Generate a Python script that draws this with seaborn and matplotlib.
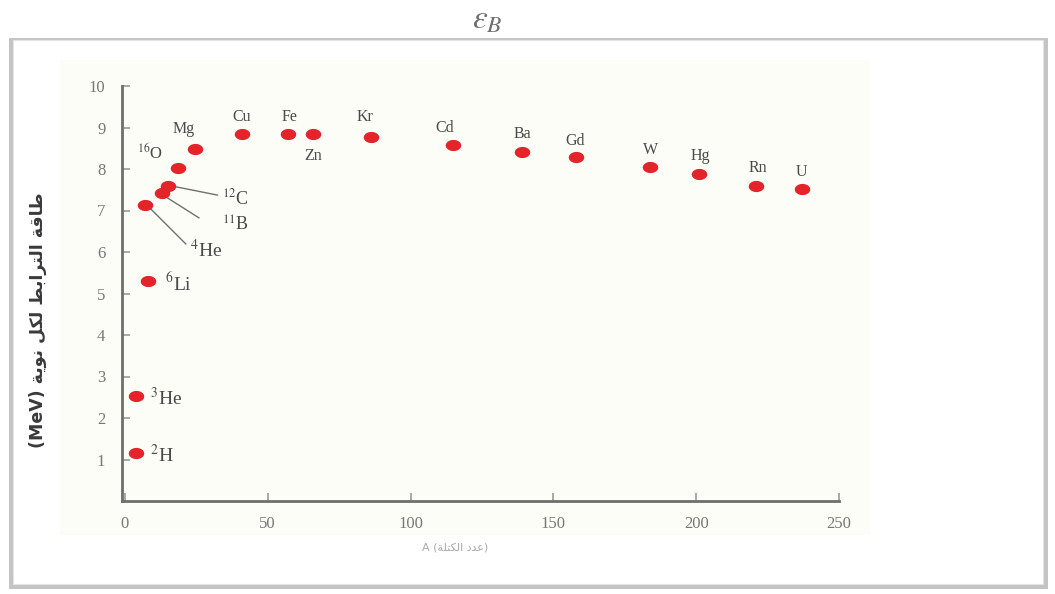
import numpy as np
import matplotlib
matplotlib.use("Agg")
import matplotlib.pyplot as plt
from matplotlib.patches import Rectangle
from matplotlib.path import Path
import seaborn as sns

# values (mass number A, binding energy per nucleon in MeV)
elements = ["2H", "3He", "6Li", "4He", "11B", "12C", "16O", "Mg", "Cu", "Fe", "Zn",
            "Kr", "Cd", "Ba", "Gd", "W", "Hg", "Rn", "U"]
mass = [4, 4, 8, 7, 13, 15, 18.5, 24.5, 41, 57, 66, 86, 115, 139, 158, 184, 201, 221, 237]
energy = [1.16, 2.53, 5.3, 7.13, 7.42, 7.59, 8.02, 8.48, 8.84, 8.84, 8.84, 8.77, 8.58,
          8.41, 8.29, 8.05, 7.88, 7.59, 7.52]

xticks = [0, 50, 100, 150, 200, 250]
yticks = [1, 2, 3, 4, 5, 6, 7, 8, 9, 10]

# label text, anchor position, alignment, size
labels = {
    "2H": (r"$^{2}$H", 8.7, 1.11, "left", 14),
    "3He": (r"$^{3}$He", 8.7, 2.48, "left", 14),
    "6Li": (r"$^{6}$Li", 14, 5.25, "left", 14),
    "4He": (r"$^{4}$He", 22.7, 6.05, "left", 14),
    "11B": (r"$^{11}$B", 34, 6.65, "left", 13),
    "12C": (r"$^{12}$C", 34, 7.3, "left", 13),
    "16O": (r"$^{16}$O", 8.7, 8.39, "center", 12),
    "Mg": ("Mg", 20.6, 8.96, "center", 11.5),
    "Cu": ("Cu", 41, 9.25, "center", 11.5),
    "Fe": ("Fe", 57.8, 9.25, "center", 11.5),
    "Zn": ("Zn", 65.8, 8.31, "center", 11.5),
    "Kr": ("Kr", 84, 9.25, "center", 11.5),
    "Cd": ("Cd", 112, 8.99, "center", 11.5),
    "Ba": ("Ba", 139, 8.84, "center", 11.5),
    "Gd": ("Gd", 157.5, 8.67, "center", 11.5),
    "W": ("W", 184, 8.46, "center", 11.5),
    "Hg": ("Hg", 201.6, 8.31, "center", 11.5),
    "Rn": ("Rn", 221.6, 8.02, "center", 11.5),
    "U": ("U", 237, 7.93, "center", 11.5),
}
leaders = {
    "12C": ((16.5, 7.59), (32.5, 7.37)),
    "11B": ((15, 7.3), (26, 6.82)),
    "4He": ((8.75, 7.06), (21.4, 6.19)),
}

# Arabic y label in presentation forms (logical order), reversed for LTR drawing
ylab_words = ["\uFEC3\uFE8E\uFED7\uFE94",
              "\uFE8D\uFEDF\uFE98\uFEAE\uFE8D\uFE91\uFEC2",
              "\uFEDF\uFEDC\uFEDE",
              "\uFEE7\uFEEE\uFEF3\uFE94"]
ylabel = "(MeV) " + " ".join(ylab_words)[::-1]
xlab_ar = " ".join(["\uFECB\uFEAA\uFEA9", "\uFE8D\uFEDF\uFEDC\uFE98\uFEE0\uFE94"])[::-1]
xlabel = "A (" + xlab_ar + ")"

sns.set_style("white")
plt.rcParams["font.family"] = ["Liberation Serif", "DejaVu Serif"]
plt.rcParams["mathtext.fontset"] = "stix"

W, H = 1055, 594
fig = plt.figure(figsize=(W / 100, H / 100), dpi=100)

# frame with shadow
fig.patches.append(Rectangle((9 / W, 1 - 589 / H), 1039 / W, 551 / H, transform=fig.transFigure,
                             facecolor="#c4c4c4", edgecolor="none", zorder=-3))
fig.patches.append(Rectangle((13 / W, 1 - 584 / H), 1030 / W, 544 / H, transform=fig.transFigure,
                             facecolor="white", edgecolor="#e4e4e4", lw=0.8, zorder=-2))
fig.patches.append(Rectangle((60 / W, 1 - 535 / H), 810 / W, 475 / H, transform=fig.transFigure,
                             facecolor="#fdfdf7", edgecolor="none", zorder=-1))

ax = fig.add_axes([122 / W, 1 - 501 / H, 717 / W, 415 / H])
ax.set_zorder(2)
ax.patch.set_alpha(0)

theta = np.linspace(0, 2 * np.pi, 40)
ellipse = Path(np.column_stack([np.cos(theta), 0.72 * np.sin(theta)]), closed=True)

sns.scatterplot(x=mass, y=energy, ax=ax, marker=ellipse, s=125, color="#e3242b",
                edgecolor="#e3242b", linewidth=0, zorder=3, legend=False)

ax.set_xlim(-1, 250)
ax.set_ylim(0, 10)
ax.set_xticks(xticks)
ax.set_yticks(yticks)
ax.tick_params(axis="both", direction="in", colors="#9a9a9a", length=6, width=1.2,
               labelcolor="#777777", labelsize=12, bottom=True, left=True)
ax.tick_params(axis="y", pad=12)
ax.tick_params(axis="x", pad=11)
ax.set_xticklabels([str(t) for t in xticks])
for sp in ["top", "right"]:
    ax.spines[sp].set_visible(False)
for sp in ["left", "bottom"]:
    ax.spines[sp].set_color("#6e6e6e")
    ax.spines[sp].set_linewidth(2)

for el in elements:
    txt, lx, ly, ha, fs = labels[el]
    ax.text(lx, ly, txt, ha=ha, va="center", fontsize=fs, color="#4a4a4a", zorder=4)
for el, (p0, p1) in leaders.items():
    ax.plot([p0[0], p1[0]], [p0[1], p1[1]], color="#707070", lw=1, zorder=2)

fig.text(38 / W, 1 - 320 / H, ylabel, rotation=90, ha="center", va="center",
         fontsize=12.5, color="#3a3a3a", fontweight="bold", family=["DejaVu Sans"])
fig.text(455 / W, 1 - 548 / H, xlabel, ha="center", va="center", fontsize=8,
         color="#a8a8a8", family=["DejaVu Sans"])
fig.text(487 / W, 1 - 20 / H, r"$\varepsilon_B$", ha="center", va="center",
         fontsize=24, color="#707070")

fig.savefig("out.png", dpi=100)
